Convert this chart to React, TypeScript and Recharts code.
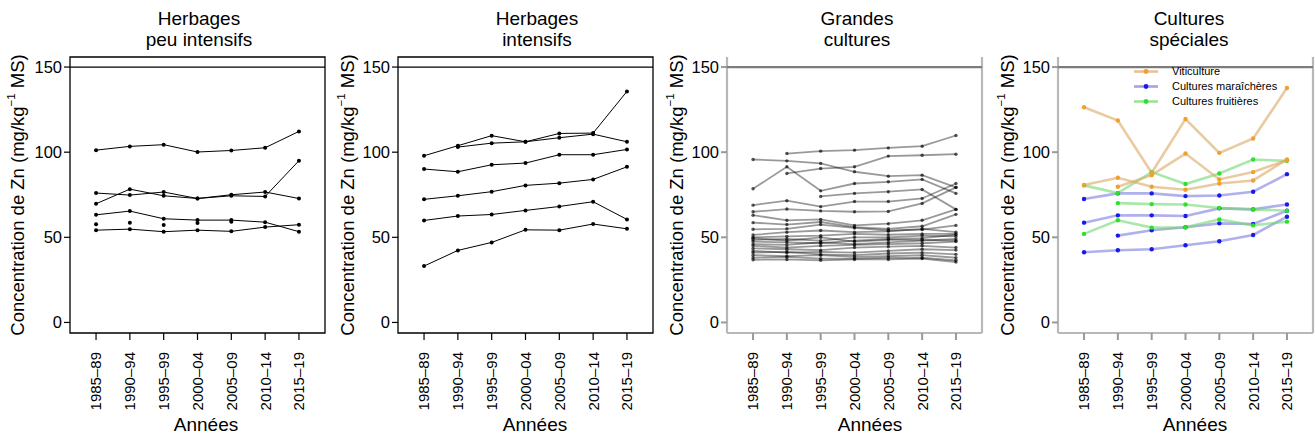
import React from 'react';
import { LineChart, Line, XAxis, YAxis, ReferenceLine, ReferenceArea } from 'recharts';

// ---------- categories / ticks ----------
const PERIODS = ['1985–89', '1990–94', '1995–99', '2000–04', '2005–09', '2010–14', '2015–19'];
const X_INDEX = [0, 1, 2, 3, 4, 5, 6];
const Y_TICKS = [0, 50, 100, 150];
const LIMIT = 150;
const Y_MIN = -6.2;
const Y_MAX = 155.9;
const X_MIN = -0.77;
const X_MAX = 6.77;

// ---------- Herbages peu intensifs ----------
const HPI_A = [101.2, 103.4, 104.4, 100.1, 101.0, 102.6, 112.2];
const HPI_B = [76.0, 74.8, 76.6, 72.8, 75.0, 76.6, 72.8];
const HPI_C = [69.7, 78.3, 74.4, 72.8, 74.4, 74.0, 95.0];
const HPI_D = [63.2, 65.4, 60.9, 60.1, 60.1, 58.9, 53.3];
const HPI_E = [54.2, 54.8, 53.3, 54.2, 53.5, 56.0, 57.4];
const HPI_POINTS = [57.6, 58.5, 57.2, 58.4, 59.1, null, null];

// ---------- Herbages intensifs ----------
const HI_A = [97.9, 103.8, 109.7, 106.1, 111.0, 111.2, 135.7];
const HI_B = [null, 103.0, 105.3, 106.1, 108.5, 110.6, 106.1];
const HI_C = [90.1, 88.5, 92.6, 93.6, 98.5, 98.5, 101.6];
const HI_D = [72.3, 74.4, 76.8, 80.5, 81.8, 84.0, 91.4];
const HI_E = [59.9, 62.5, 63.4, 65.8, 68.1, 70.9, 60.5];
const HI_F = [33.1, 42.3, 47.0, 54.4, 54.2, 57.8, 55.0];

// ---------- Grandes cultures ----------
const GC_UPPER = [
  [null, 99.2, 100.6, 101.2, 102.5, 103.5, 109.8],
  [95.7, 94.9, 93.4, 88.5, 85.9, 86.5, 79.3],
  [78.5, 91.4, 77.3, 81.6, 82.6, 84.0, 75.8],
  [null, 87.5, 90.4, 91.4, 97.7, 98.2, 98.8],
  [null, null, 74.0, 75.8, 76.8, 78.1, 66.4],
  [68.9, 71.5, 68.0, 71.0, 71.0, 72.8, 81.6],
  [65.0, 66.6, 65.5, 65.0, 65.2, 69.9, 79.3],
  [63.0, 60.0, 60.5, 57.0, 58.0, 60.0, 66.4],
];
const GC_LOWER = [
  [58.6, 57.5, 59.0, 56.0, 55.0, 56.5, 63.5],
  [54.7, 55.0, 57.5, 55.5, 54.0, 54.5, 57.0],
  [51.4, 53.0, 54.0, 53.0, 53.5, 55.0, 53.0],
  [50.0, 50.5, 51.0, 52.0, 51.5, 52.0, 52.0],
  [49.5, 48.0, 50.0, 47.5, 48.5, 48.5, 48.0],
  [48.5, 49.0, 48.0, 50.0, 50.0, 51.0, 50.5],
  [47.5, 47.0, 46.5, 48.0, 49.0, 49.5, 51.5],
  [46.0, 45.5, 47.0, 46.0, 47.0, 48.0, 49.0],
  [45.0, 44.0, 45.0, 45.5, 46.0, 46.5, 47.5],
  [43.5, 43.0, 42.5, 44.0, 44.5, 45.0, 44.0],
  [42.0, 41.0, 41.5, 41.0, 42.0, 43.0, 42.5],
  [41.0, 41.5, 40.0, 39.5, 40.5, 41.0, 40.0],
  [39.5, 39.0, 39.5, 38.5, 39.0, 39.5, 38.0],
  [38.0, 38.5, 37.5, 37.5, 38.0, 38.0, 36.5],
  [36.8, 37.0, 36.5, 37.0, 37.0, 37.5, 35.5],
];

// ---------- Cultures spéciales ----------
const VITI_NAME = 'Viticulture';
const MARA_NAME = 'Cultures maraîchères';
const FRUIT_NAME = 'Cultures fruitières';
const VITI = [
  [126.4, 118.6, 87.9, 119.5, 99.6, 108.0, 137.7],
  [80.7, 85.0, 79.7, 77.9, 81.6, 83.4, 95.7],
  [null, 79.7, 86.5, 99.2, 84.0, 88.3, 95.3],
];
const MARA = [
  [72.5, 75.8, 75.8, 74.2, 74.6, 76.8, 87.1],
  [58.6, 62.9, 62.9, 62.5, 67.0, 66.4, 69.3],
  [null, 51.0, 54.1, 55.9, 58.2, 57.8, 65.6],
  [41.2, 42.4, 43.0, 45.3, 47.7, 51.4, 62.1],
];
const FRUIT = [
  [80.5, 76.0, 88.3, 81.3, 87.5, 95.7, 94.9],
  [null, 70.1, 69.5, 69.3, 67.2, 66.4, 65.6],
  [52.0, 60.0, 55.7, 55.9, 60.5, 57.0, 59.2],
];

const FONT = '"Liberation Sans", Arial, Helvetica, sans-serif';

type Series = {
  values: (number | null)[];
  color: string;
  lineColor: string;
  lineOpacity: number;
  width: number;
  dotR: number;
  dotOpacity: number;
  noLine?: boolean;
};

const blackSeries = (v: (number | null)[], noLine = false): Series => ({
  values: v, color: '#000', lineColor: '#000', lineOpacity: 1, width: 1, dotR: 2, dotOpacity: 1, noLine,
});
const greySeries = (v: (number | null)[]): Series => ({
  values: v, color: '#000', lineColor: '#000', lineOpacity: 0.4, width: 1.8, dotR: 1.7, dotOpacity: 0.65,
});
const colSeries = (v: (number | null)[], line: string, dot: string): Series => ({
  values: v, color: dot, lineColor: line, lineOpacity: 0.6, width: 2.6, dotR: 2.2, dotOpacity: 1,
});

const COL = {
  viti: { line: '#dba866', dot: '#f0a030' },
  mara: { line: '#7b7be0', dot: '#1a1ae8' },
  fruit: { line: '#6fd96f', dot: '#2ee02e' },
};

const buildRows = (series: Series[]) =>
  X_INDEX.map((i) => {
    const r: Record<string, number | null> = { i };
    series.forEach((s, k) => {
      r['s' + k] = s.values[i];
    });
    return r;
  });

const XTick = (props: any) => {
  const { x, y, payload } = props;
  return (
    <text
      x={x}
      y={y}
      transform={`rotate(-90 ${x} ${y})`}
      textAnchor="end"
      dy="0.36em"
      fontSize={15}
      fontFamily={FONT}
      fill="#000"
    >
      {PERIODS[payload.value]}
    </text>
  );
};

const YTick = (props: any) => {
  const { x, y, payload } = props;
  return (
    <text x={x} y={y} textAnchor="end" dy="0.36em" fontSize={16.5} fontFamily={FONT} fill="#000">
      {payload.value}
    </text>
  );
};

const LegendBox = ({ left, top }: { left: number; top: number }) => {
  const items = [
    { name: VITI_NAME, ...COL.viti },
    { name: MARA_NAME, ...COL.mara },
    { name: FRUIT_NAME, ...COL.fruit },
  ];
  return (
    <div style={{ position: 'absolute', left, top, fontFamily: FONT, fontSize: 11, color: '#000' }}>
      {items.map((it) => (
        <div key={it.name} style={{ display: 'flex', alignItems: 'center', height: 15 }}>
          <svg width={38} height={15} style={{ display: 'block' }}>
            <line x1={0} y1={7.5} x2={24} y2={7.5} stroke={it.line} strokeOpacity={0.7} strokeWidth={2.6} />
            <circle cx={12} cy={7.5} r={2.4} fill={it.dot} />
          </svg>
          <span style={{ lineHeight: '15px', whiteSpace: 'nowrap' }}>{it.name}</span>
        </div>
      ))}
    </div>
  );
};

type PanelProps = {
  left: number;
  series: Series[];
  frameColor: string;
  frameWidth: number;
  openTop: boolean;
  limitColor: string;
  limitWidth: number;
  tickColor: string;
  tickWidth: number;
};

const W = 327;
const H = 439;

const Panel = ({ left, series, frameColor, frameWidth, openTop, limitColor, limitWidth, tickColor, tickWidth }: PanelProps) => {
  const rows = buildRows(series);
  return (
    <div style={{ position: 'absolute', left, top: 0, width: W, height: H }}>
      <LineChart width={W} height={H} data={rows} margin={{ top: 57, right: 2, bottom: 0, left: 0 }}>
        <XAxis
          dataKey="i"
          type="number"
          domain={[X_MIN, X_MAX]}
          allowDataOverflow
          ticks={X_INDEX}
          interval={0}
          height={106}
          axisLine={false}
          tickSize={7}
          tickMargin={12}
          tickLine={{ stroke: tickColor, strokeWidth: tickWidth }}
          tick={<XTick />}
        />
        <YAxis
          type="number"
          domain={[Y_MIN, Y_MAX]}
          allowDataOverflow
          ticks={Y_TICKS}
          interval={0}
          width={70}
          axisLine={false}
          tickSize={6}
          tickMargin={2}
          tickLine={{ stroke: tickColor, strokeWidth: tickWidth }}
          tick={<YTick />}
        />
        {openTop ? null : (
          <ReferenceArea
            x1={X_MIN}
            x2={X_MAX}
            y1={Y_MIN}
            y2={Y_MAX}
            fill="none"
            fillOpacity={0}
            stroke={frameColor}
            strokeWidth={frameWidth}
            ifOverflow="visible"
          />
        )}
        {openTop ? <ReferenceLine x={X_MIN} stroke={frameColor} strokeWidth={frameWidth} ifOverflow="visible" /> : null}
        {openTop ? <ReferenceLine x={X_MAX} stroke={frameColor} strokeWidth={frameWidth} ifOverflow="visible" /> : null}
        {openTop ? <ReferenceLine y={Y_MIN} stroke={frameColor} strokeWidth={frameWidth} ifOverflow="visible" /> : null}
        <ReferenceLine y={LIMIT} stroke={limitColor} strokeWidth={limitWidth} />
        {series.map((s, k) => (
          <Line
            key={k}
            dataKey={'s' + k}
            type="linear"
            isAnimationActive={false}
            stroke={s.noLine ? 'none' : s.lineColor}
            strokeOpacity={s.lineOpacity}
            strokeWidth={s.width}
            connectNulls={false}
            dot={{ r: s.dotR, fill: s.color, fillOpacity: s.dotOpacity, stroke: 'none' }}
            activeDot={false}
            legendType="none"
          />
        ))}
      </LineChart>
    </div>
  );
};

const Title = ({ cx, lines }: { cx: number; lines: string[] }) => (
  <div
    style={{
      position: 'absolute',
      left: cx - 120,
      top: 9,
      width: 240,
      textAlign: 'center',
      fontFamily: FONT,
      fontSize: 19,
      lineHeight: '20.5px',
      color: '#000',
    }}
  >
    {lines.map((l) => (
      <div key={l}>{l}</div>
    ))}
  </div>
);

const XLabel = ({ cx }: { cx: number }) => (
  <div
    style={{
      position: 'absolute',
      left: cx - 60,
      top: 413,
      width: 120,
      textAlign: 'center',
      fontFamily: FONT,
      fontSize: 19,
      lineHeight: '24px',
      color: '#000',
    }}
  >
    Années
  </div>
);

const YLabel = ({ cx }: { cx: number }) => (
  <div
    style={{
      position: 'absolute',
      left: cx - 170,
      top: 195 - 12,
      width: 340,
      height: 24,
      textAlign: 'center',
      fontFamily: FONT,
      fontSize: 18.5,
      lineHeight: '24px',
      color: '#000',
      transform: 'rotate(-90deg)',
      whiteSpace: 'nowrap',
    }}
  >
    Concentration de Zn (mg/kg
    <span style={{ fontSize: '0.62em', position: 'relative', top: '-0.75em' }}>−1</span> MS)
  </div>
);

export default function App() {
  const p1 = [HPI_A, HPI_B, HPI_C, HPI_D, HPI_E].map((v) => blackSeries(v));
  p1.push(blackSeries(HPI_POINTS, true));
  const p2 = [HI_A, HI_B, HI_C, HI_D, HI_E, HI_F].map((v) => blackSeries(v));
  const p3 = [...GC_UPPER, ...GC_LOWER].map((v) => greySeries(v));
  const p4 = [
    ...MARA.map((v) => colSeries(v, COL.mara.line, COL.mara.dot)),
    ...FRUIT.map((v) => colSeries(v, COL.fruit.line, COL.fruit.dot)),
    ...VITI.map((v) => colSeries(v, COL.viti.line, COL.viti.dot)),
  ];
  const blackStyle = { frameColor: '#000', frameWidth: 1.3, openTop: false, limitColor: '#000', limitWidth: 1.2, tickColor: '#000', tickWidth: 1.2 };
  const greyStyle = { frameColor: '#b8b8b8', frameWidth: 2.2, openTop: true, limitColor: '#7c7c7c', limitWidth: 2.2, tickColor: '#999', tickWidth: 2 };
  return (
    <div style={{ position: 'fixed', left: 0, top: 0, width: 1315, height: 439, background: '#fff', overflow: 'hidden' }}>
      <Panel left={0} series={p1} {...blackStyle} />
      <Panel left={328} series={p2} {...blackStyle} />
      <Panel left={657} series={p3} {...greyStyle} />
      <Panel left={988} series={p4} {...greyStyle} />
      <LegendBox left={1134} top={64} />
      <Title cx={199} lines={['Herbages', 'peu intensifs']} />
      <Title cx={537} lines={['Herbages', 'intensifs']} />
      <Title cx={857} lines={['Grandes', 'cultures']} />
      <Title cx={1189} lines={['Cultures', 'spéciales']} />
      <XLabel cx={206} />
      <XLabel cx={535} />
      <XLabel cx={870} />
      <XLabel cx={1195} />
      <YLabel cx={18} />
      <YLabel cx={348} />
      <YLabel cx={677} />
      <YLabel cx={1008} />
    </div>
  );
}
